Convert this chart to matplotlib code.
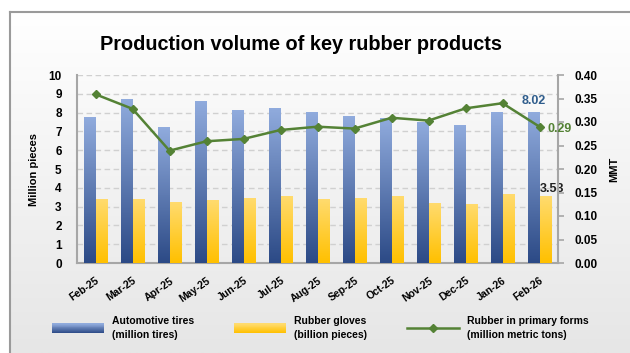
import numpy as np
import matplotlib
matplotlib.use("Agg")
import matplotlib.pyplot as plt
from matplotlib.patches import Rectangle
from matplotlib.lines import Line2D
from matplotlib.legend_handler import HandlerBase
from matplotlib.colors import LinearSegmentedColormap, to_rgb

plt.rcParams['font.family'] = ['Liberation Sans', 'DejaVu Sans']
plt.rcParams['font.weight'] = 'bold'

months = ["Feb-25", "Mar-25", "Apr-25", "May-25", "Jun-25", "Jul-25", "Aug-25",
          "Sep-25", "Oct-25", "Nov-25", "Dec-25", "Jan-26", "Feb-26"]
tires = [7.75, 8.71, 7.23, 8.61, 8.13, 8.24, 8.03, 7.77, 7.66, 7.46, 7.34, 7.98, 8.02]
gloves = [3.39, 3.39, 3.23, 3.34, 3.45, 3.55, 3.39, 3.45, 3.55, 3.18, 3.13, 3.66, 3.53]
rubber = [0.359, 0.328, 0.239, 0.259, 0.264, 0.283, 0.290, 0.286, 0.309, 0.303, 0.329, 0.340, 0.29]

BLUE_BOT, BLUE_TOP = "#2C4A86", "#90ABDD"
YEL_BOT, YEL_TOP = "#FFC000", "#FFDB6E"
GREEN = "#548235"

W, H = 630, 353
fig = plt.figure(figsize=(W / 100, H / 100), dpi=100)
fig.patch.set_facecolor("white")

# background gradient panel with frame
bg = fig.add_axes([9.5 / W, 0, 1 - 9.5 / W, 1 - 12 / H], zorder=-10)
grad = np.linspace(0, 1, 256).reshape(-1, 1)
bgcmap = LinearSegmentedColormap.from_list("bg", ["#FFFFFF", "#E6E6E6"])
bg.imshow(grad, aspect="auto", cmap=bgcmap, extent=[0, 1, 0, 1], origin="upper")
bg.set_xlim(0, 1); bg.set_ylim(0, 1)
bg.set_xticks([]); bg.set_yticks([])
for s in ["right", "bottom"]:
    bg.spines[s].set_visible(False)
for s in ["left", "top"]:
    bg.spines[s].set_color("#9A9A9A")
    bg.spines[s].set_linewidth(1.5)

ax = fig.add_axes([77 / W, 90 / H, 481 / W, 188 / H])
ax.patch.set_alpha(0)
ax2 = ax.twinx()
ax2.patch.set_alpha(0)

x = np.arange(len(months))
bw = 0.3

def grad_bars(bars, cbot, ctop):
    cm = LinearSegmentedColormap.from_list("g", [cbot, ctop])
    g = np.linspace(0, 1, 128).reshape(-1, 1)
    for b in bars:
        x0, w, h = b.get_x(), b.get_width(), b.get_height()
        b.set_alpha(0)
        ax.imshow(g, extent=[x0, x0 + w, 0, h], origin="lower", aspect="auto",
                  cmap=cm, zorder=3)

b1 = ax.bar(x - bw / 2, tires, bw, color=BLUE_BOT, zorder=3)
b2 = ax.bar(x + bw / 2, gloves, bw, color=YEL_BOT, zorder=3)
grad_bars(b1, BLUE_BOT, BLUE_TOP)
grad_bars(b2, YEL_BOT, YEL_TOP)

ax.set_xlim(-0.5, len(months) - 0.5)
ax.set_ylim(0, 10)
ax.set_yticks(range(0, 11))
ax.grid(axis="y", color="#D0D0D0", linestyle=(0, (4, 2.5)), linewidth=1.0, zorder=0)
ax.set_axisbelow(True)
ax.set_xticks(x)
ax.set_xticklabels(months, rotation=35, ha="right", rotation_mode="anchor", fontsize=7.5)
ax.tick_params(axis="x", length=0, pad=9)
ax.tick_params(axis="y", length=0, labelsize=8.5, pad=11)
ax.set_ylabel("Million pieces", fontsize=8, fontweight="bold", labelpad=7)
for s in ["top", "right"]:
    ax.spines[s].set_visible(False)
for s in ["left", "bottom"]:
    ax.spines[s].set_color("#A6A6A6")
    ax.spines[s].set_linewidth(1.5)

ax2.plot(x, rubber, color=GREEN, lw=1.8, marker="D", ms=4, zorder=5)
ax2.set_ylim(0, 0.4)
ax2.set_yticks(np.arange(0, 0.401, 0.05))
ax2.set_yticklabels([f"{v:.2f}" for v in np.arange(0, 0.401, 0.05)])
ax2.tick_params(axis="y", direction="out", length=4, color="#A6A6A6", width=1.2,
                labelsize=8.5, pad=8)
ax2.set_ylabel("MMT", fontsize=8, fontweight="bold", labelpad=8)
for s in ["top", "left", "bottom"]:
    ax2.spines[s].set_visible(False)
ax2.spines["right"].set_color("#A6A6A6")
ax2.spines["right"].set_linewidth(1.5)

# data labels
ax.annotate(f"{tires[-1]:.2f}", (x[-1] - bw / 2, tires[-1]), xytext=(0, 4),
            textcoords="offset points", ha="center", va="bottom",
            fontsize=9, fontweight="bold", color="#2F5D8C")
ax.annotate(f"{gloves[-1]:.2f}", (x[-1] + bw / 2, gloves[-1]), xytext=(5, 1),
            textcoords="offset points", ha="center", va="bottom",
            fontsize=9, fontweight="bold", color="#222222")
ax2.annotate(f"{rubber[-1]:.2f}", (x[-1], rubber[-1]), xytext=(6, -2),
             textcoords="offset points", ha="left", va="center",
             fontsize=9, fontweight="bold", color=GREEN)

fig.text(301.5 / W, 1 - 45 / H, "Production volume of key rubber products",
         ha="center", va="center", fontsize=14.3, fontweight="bold")

# legend with gradient patches
class GradHandler(HandlerBase):
    def __init__(self, cbot, ctop):
        super().__init__()
        self.cbot, self.ctop = np.array(to_rgb(cbot)), np.array(to_rgb(ctop))
    def create_artists(self, legend, orig, xd, yd, width, height, fontsize, trans):
        n = 20
        arts = []
        for i in range(n):
            f = i / (n - 1)
            c = self.cbot * (1 - f) + self.ctop * f
            r = Rectangle((-xd, -yd + height * i / n), width, height / n + 0.3,
                          facecolor=c, edgecolor="none", transform=trans)
            arts.append(r)
        return arts

h1 = Rectangle((0, 0), 1, 1)
h2 = Rectangle((0, 0), 1, 1)
h3 = Line2D([], [], color=GREEN, lw=1.8, marker="D", ms=4)
leg = fig.legend([h1, h2, h3],
                 ["Automotive tires\n(million tires)", "Rubber gloves\n(billion pieces)",
                  "Rubber in primary forms\n(million metric tons)"],
                 handler_map={h1: GradHandler(BLUE_BOT, BLUE_TOP),
                              h2: GradHandler(YEL_BOT, YEL_TOP)},
                 loc="center left", bbox_to_anchor=(52 / W, 1 - 328 / H),
                 ncol=3, frameon=False, fontsize=7.5, handlelength=5.0,
                 handleheight=1.05, handletextpad=0.75, columnspacing=3.85,
                 borderpad=0, borderaxespad=0, numpoints=1)
for t in leg.get_texts():
    t.set_linespacing(1.6)

fig.savefig("out.png", dpi=100)
